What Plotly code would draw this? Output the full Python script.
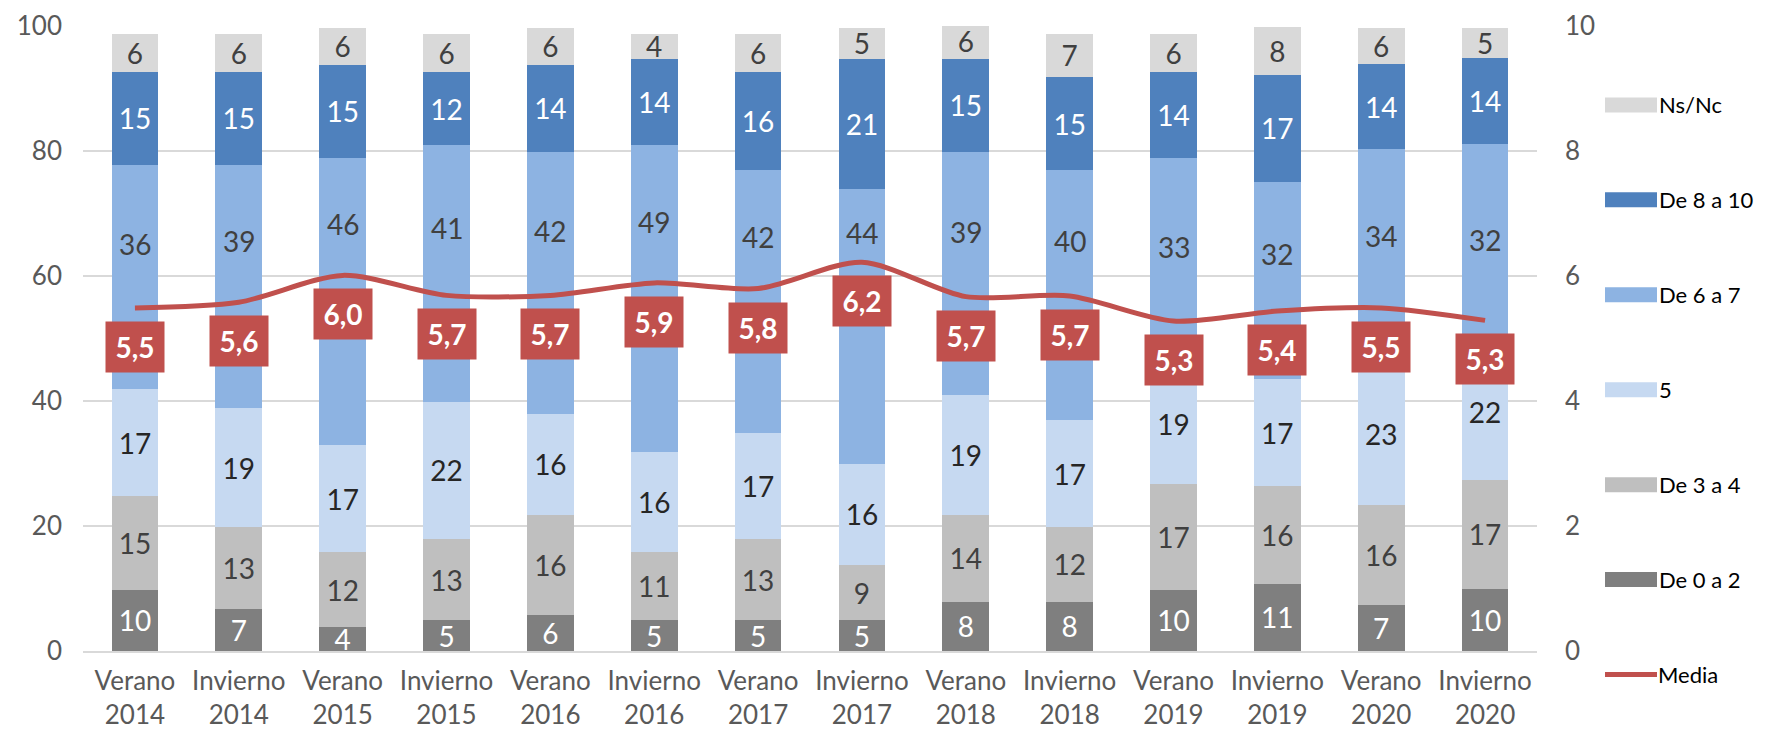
import plotly.graph_objects as go

# valoración por oleada
temporadas = ["Verano", "Invierno"] * 7
anios = ["2014", "2014", "2015", "2015", "2016", "2016", "2017", "2017",
         "2018", "2018", "2019", "2019", "2020", "2020"]

de_0_a_2 = [9.8, 6.8, 3.8, 4.9, 5.8, 4.9, 4.9, 4.9, 7.9, 7.9, 9.8, 10.8, 7.3, 10.0]
de_3_a_4 = [15.0, 13.0, 12.0, 13.0, 16.0, 10.9, 13.0, 8.9, 13.9, 11.9, 17.0, 15.6, 16.0, 17.3]
cinco = [17.1, 19.1, 17.1, 22.0, 16.1, 16.1, 17.0, 16.1, 19.1, 17.1, 19.0, 17.1, 23.0, 22.0]
de_6_a_7 = [35.9, 38.9, 46.0, 41.0, 42.0, 49.0, 42.0, 44.0, 39.0, 40.0, 33.1, 31.6, 34.0, 31.8]
de_8_a_10 = [14.9, 14.9, 14.9, 11.8, 13.9, 13.9, 15.8, 20.9, 14.9, 14.9, 13.8, 17.1, 13.6, 13.8]
ns_nc = [6.1, 6.1, 5.9, 6.1, 5.9, 4.0, 6.1, 4.9, 5.6, 7.0, 6.1, 7.6, 5.8, 4.8]
media = [5.49, 5.58, 6.01, 5.69, 5.69, 5.89, 5.80, 6.22, 5.67, 5.68, 5.28, 5.44, 5.49, 5.29]

cats = [t + "<br>" + a for t, a in zip(temporadas, anios)]

FONT = "Lato"
series = [
    ("De 0 a 2", de_0_a_2, "#7F7F7F", "white"),
    ("De 3 a 4", de_3_a_4, "#BFBFBF", "#404040"),
    ("5", cinco, "#C6D9F1", "#262626"),
    ("De 6 a 7", de_6_a_7, "#8DB3E2", "#404040"),
    ("De 8 a 10", de_8_a_10, "#4F81BD", "white"),
    ("Ns/Nc", ns_nc, "#D9D9D9", "#404040"),
]

fig = go.Figure()
for name, vals, col, tcol in series:
    fig.add_trace(go.Bar(x=cats, y=vals, name=name, marker_color=col,
                         marker_line_width=0,
                         texttemplate="%{y:.0f}",
                         textposition="none" if name == "De 6 a 7" else "inside",
                         insidetextanchor="middle", textangle=0,
                         constraintext="none",
                         textfont=dict(family=FONT, size=28, color=tcol),
                         showlegend=False))

fig.add_trace(go.Scatter(x=cats, y=media, name="Media", yaxis="y2",
                         mode="lines", line=dict(color="#C0504D", width=5, shape="spline", smoothing=0.8),
                         showlegend=False))

# etiquetas "De 6 a 7": centradas en la parte visible, encima de la caja de la media
for i, c in enumerate(cats):
    tope = de_0_a_2[i] + de_3_a_4[i] + cinco[i] + de_6_a_7[i]
    ypos = (tope + media[i] * 10 - 2.4) / 2
    fig.add_annotation(x=c, y=ypos, text=f"{de_6_a_7[i]:.0f}", showarrow=False,
                       font=dict(family=FONT, size=28, color="#404040"))

# etiquetas de la media
for c, m in zip(cats, media):
    fig.add_annotation(x=c, y=m, yref="y2", yshift=-39,
                       text="<b>" + f"{m:.1f}".replace(".", ",") + "</b>",
                       showarrow=False, bgcolor="#C0504D", width=56, height=48,
                       font=dict(family=FONT, size=28, color="white"))

# coordenadas de página -> figura (el body del html tiene 8px de margen)
O = 8
W, H = 1765 - O, 735 - O
L, R, T, B = 83 - O, 1537 - O, 25.5 - O, 651 - O
def px(x):
    return (x - O - L) / (R - L)
def py(y):
    return (B - (y - O)) / (B - T)

# leyenda dibujada a mano (como en Excel)
ley = [("Ns/Nc", "#D9D9D9"), ("De 8 a 10", "#4F81BD"), ("De 6 a 7", "#8DB3E2"),
       ("5", "#C6D9F1"), ("De 3 a 4", "#BFBFBF"), ("De 0 a 2", "#7F7F7F")]
for i, (nm, col) in enumerate(ley):
    yc = 104.5 + i * 95
    fig.add_shape(type="rect", xref="paper", yref="paper",
                  x0=px(1605), x1=px(1657), y0=py(yc - 7.5), y1=py(yc + 7.5),
                  fillcolor=col, line_width=0)
    fig.add_annotation(xref="paper", yref="paper", x=px(1658), y=py(yc),
                       xanchor="left", yanchor="middle", text=nm, showarrow=False,
                       borderpad=0, font=dict(family=FONT, size=22, color="black"))
yc = 104.5 + 6 * 95
fig.add_shape(type="line", xref="paper", yref="paper",
              x0=px(1605), x1=px(1657), y0=py(yc), y1=py(yc),
              line=dict(color="#C0504D", width=5))
fig.add_annotation(xref="paper", yref="paper", x=px(1657), y=py(yc),
                   xanchor="left", yanchor="middle", text="Media", showarrow=False,
                   borderpad=0, font=dict(family=FONT, size=22, color="black"))

fig.update_layout(
    width=W, height=H,
    barmode="stack", bargap=0.55,
    plot_bgcolor="white", paper_bgcolor="white",
    margin=dict(l=L, r=W - R, t=T, b=H - B, autoexpand=False),
    font=dict(family=FONT, size=27, color="#595959"),
    xaxis=dict(showgrid=False, showline=True, linecolor="#D9D9D9", linewidth=2,
               ticklabelstandoff=6, automargin=False,
               tickfont=dict(size=26, color="#595959")),
    yaxis=dict(range=[0, 100], dtick=20, showgrid=True, gridcolor="#D9D9D9", gridwidth=2,
               zeroline=False, ticks="", ticklabelstandoff=20, automargin=False,
               ticklabeloverflow="allow",
               tickfont=dict(size=26, color="#595959")),
    yaxis2=dict(range=[0, 10], dtick=2, overlaying="y", side="right", showgrid=False,
                zeroline=False, ticks="", ticklabelstandoff=27, automargin=False,
                ticklabeloverflow="allow",
                tickfont=dict(size=26, color="#595959")),
)

fig.write_html("out.html")
